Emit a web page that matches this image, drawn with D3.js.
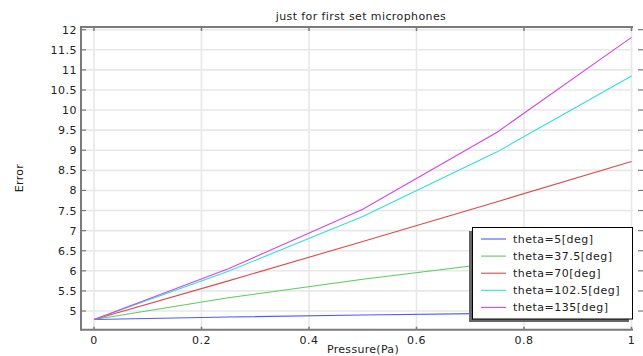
<!DOCTYPE html>
<html><head><meta charset="utf-8">
<script src="https://cdn.jsdelivr.net/npm/d3@7/dist/d3.min.js"></script>
<style>body{margin:0;background:#fff}svg{display:block}text{font-family:"DejaVu Sans",sans-serif;fill:#222}</style>
</head><body><svg id="c" width="643" height="356"></svg>
<script>
const pressure = [0, 0.25, 0.5, 0.75, 1];
const seriesNames = ["theta=5[deg]","theta=37.5[deg]","theta=70[deg]","theta=102.5[deg]","theta=135[deg]"];
const theta5 = [4.79, 4.85, 4.90, 4.94, 4.98];
const theta37 = [4.79, 5.33, 5.79, 6.20, 6.58];
const theta70 = [4.79, 5.75, 6.73, 7.72, 8.72];
const theta102 = [4.79, 5.99, 7.35, 8.96, 10.85];
const theta135 = [4.79, 6.05, 7.53, 9.45, 11.81];
const colors = ["#4a5cff","#5ccc5c","#e04848","#30dede","#d048e0"];
const xTicks = [0,0.2,0.4,0.6,0.8,1];
const yTicks = [5,5.5,6,6.5,7,7.5,8,8.5,9,9.5,10,10.5,11,11.5,12];
const allSeries = [theta5,theta37,theta70,theta102,theta135];

const svg = d3.select("#c");
const L=81, R=633, T=27, B=329.7;
const x = d3.scaleLinear().domain([0,1]).range([94,631.5]);
const y = d3.scaleLinear().domain([4.535,12.067]).range([B,T]);
const fmt = d => String(d);

// grid
const g = svg.append("g");
g.selectAll(".vg").data(xTicks).join("line").attr("x1",d=>x(d)).attr("x2",d=>x(d)).attr("y1",T).attr("y2",B).attr("stroke","#e8e8e8").attr("stroke-width",1.6);
g.selectAll(".hg").data(yTicks).join("line").attr("x1",L).attr("x2",R).attr("y1",d=>y(d)).attr("y2",d=>y(d)).attr("stroke","#e8e8e8").attr("stroke-width",1.6);

// lines
const line = d3.line().x((d,i)=>x(pressure[i])).y(d=>y(d));
allSeries.forEach((s,i)=>{
  svg.append("path").attr("d",line(s)).attr("fill","none").attr("stroke",colors[i]).attr("stroke-width",1.1);
});

// axes frame
const ax = svg.append("g").attr("stroke","#7a7a7a");
ax.append("line").attr("x1",L).attr("x2",L).attr("y1",T-1).attr("y2",B+1).attr("stroke-width",2);
ax.append("line").attr("x1",L).attr("x2",R).attr("y1",T).attr("y2",T).attr("stroke-width",2);
ax.append("line").attr("x1",L).attr("x2",R).attr("y1",B).attr("y2",B).attr("stroke-width",2);
ax.selectAll(".yt").data(yTicks).join("line").attr("x1",L).attr("x2",L+5).attr("y1",d=>y(d)).attr("y2",d=>y(d)).attr("stroke-width",1.2);
ax.selectAll(".yr").data(yTicks).join("line").attr("x1",638).attr("x2",643).attr("y1",d=>y(d)).attr("y2",d=>y(d)).attr("stroke-width",1.2);
ax.selectAll(".xt").data(xTicks).join("line").attr("x1",d=>x(d)).attr("x2",d=>x(d)).attr("y1",T).attr("y2",T+4).attr("stroke-width",1.5);
ax.selectAll(".xb").data(xTicks).join("line").attr("x1",d=>x(d)).attr("x2",d=>x(d)).attr("y1",B).attr("y2",B-3).attr("stroke-width",1.5);

// tick labels
svg.selectAll(".yl").data(yTicks).join("text").attr("x",77).attr("y",d=>y(d)+4).attr("text-anchor","end")
  .style("font-size","11px").style("letter-spacing","0.5px").text(fmt);
svg.selectAll(".xl").data(xTicks).join("text").attr("x",d=>x(d)).attr("y",344).attr("text-anchor","middle")
  .style("font-size","11px").style("letter-spacing","0.5px").text(fmt);

// title & axis labels
svg.append("text").attr("x",361).attr("y",20).attr("text-anchor","middle").style("font-size","11px").style("letter-spacing","0.4px").text("just for first set microphones");
svg.append("text").attr("x",363).attr("y",353).attr("text-anchor","middle").style("font-size","11px").style("letter-spacing","0.3px").text("Pressure(Pa)");
svg.append("text").attr("transform","translate(23,178) rotate(-90)").attr("text-anchor","middle").style("font-size","11px").style("letter-spacing","0.3px").text("Error");

// legend
const lg = svg.append("g");
lg.append("rect").attr("x",469).attr("y",231).attr("width",160).attr("height",91).attr("fill","#666");
lg.append("rect").attr("x",472.5).attr("y",227.5).attr("width",160).attr("height",91.5).attr("fill","#fff").attr("stroke","#000").attr("stroke-width",1);
seriesNames.forEach((n,i)=>{
  const cy = 239 + i*17.1;
  lg.append("line").attr("x1",481).attr("x2",506).attr("y1",cy).attr("y2",cy).attr("stroke",colors[i]).attr("stroke-width",1.1);
  lg.append("text").attr("x",513).attr("y",cy+4).style("font-size","11px").style("letter-spacing","0.5px").text(n);
});
</script></body></html>
